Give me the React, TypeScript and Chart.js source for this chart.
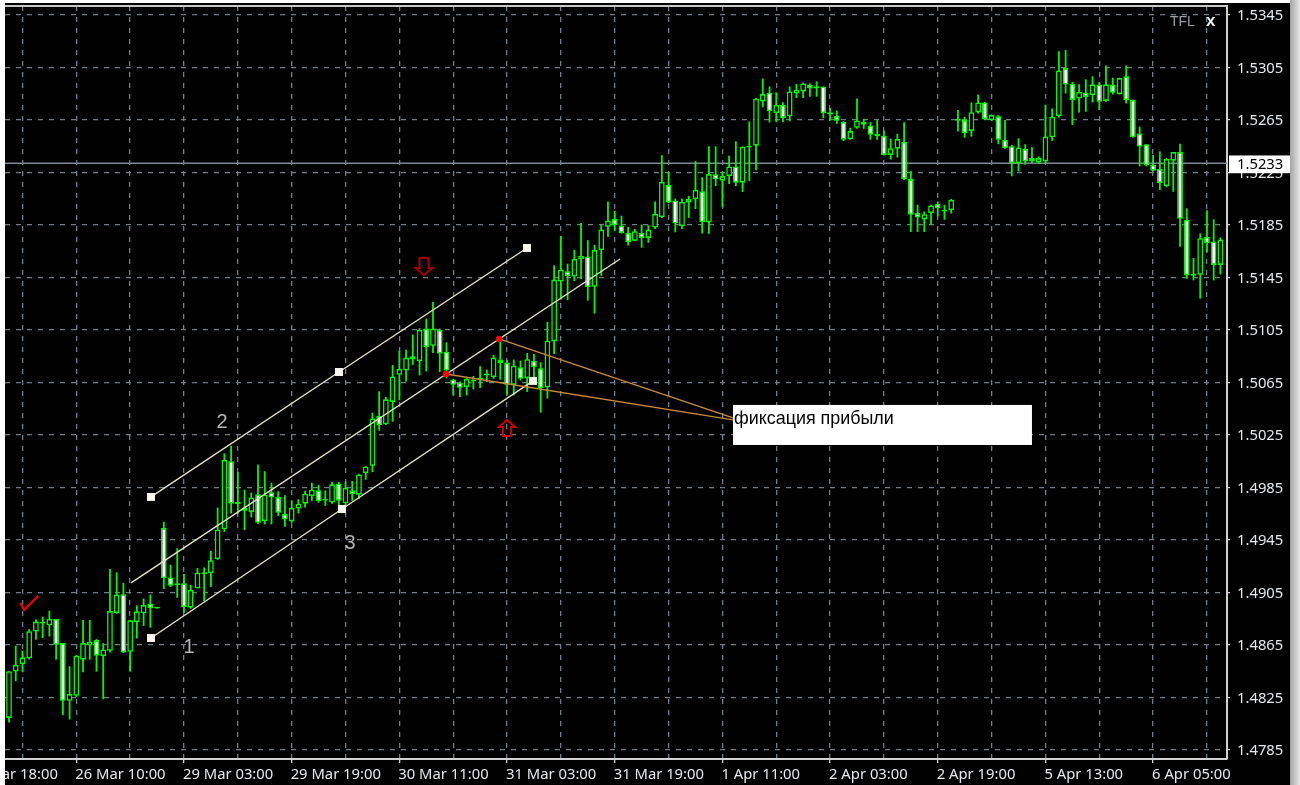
import React, { useEffect, useRef } from "react";
import { Chart, registerables } from "chart.js";

Chart.register(...registerables);

const opens = [
  1.48094,1.48447,1.48505,1.48548,1.48752,1.48813,1.48800,1.48848,1.48664,1.48225,
  1.48263,1.48538,1.48646,1.48687,1.48566,1.48606,1.48893,1.49037,1.48598,1.48825,
  1.48891,1.48964,1.48928,1.49541,1.49165,1.49107,1.49120,1.48934,1.49082,1.49191,
  1.49196,1.49304,1.49531,1.50050,1.49725,1.49697,1.49664,1.49798,1.49594,1.49813,
  1.49778,1.49647,1.49591,1.49690,1.49727,1.49785,1.49828,1.49750,1.49735,1.49881,
  1.49730,1.49828,1.49795,1.49959,1.50015,1.50394,1.50331,1.50502,1.50709,1.50741,
  1.50850,1.50814,1.51061,1.50930,1.51051,1.50885,1.50673,1.50648,1.50615,1.50658,
  1.50673,1.50704,1.50691,1.50825,1.50802,1.50633,1.50767,1.50683,1.50814,1.50759,
  1.50613,1.50963,1.51419,1.51497,1.51457,1.51589,1.51611,1.51379,1.51659,1.51836,
  1.51896,1.51846,1.51790,1.51730,1.51790,1.51752,1.51831,1.51911,1.52156,1.52037,
  1.51841,1.52022,1.52047,1.52108,1.51870,1.52236,1.52188,1.52223,1.52296,1.52173,
  1.52440,1.52455,1.52792,1.52858,1.52702,1.52765,1.52679,1.52853,1.52868,1.52918,
  1.52893,1.52906,1.52709,1.52682,1.52636,1.52503,1.52591,1.52636,1.52609,1.52528,
  1.52530,1.52384,1.52432,1.52483,1.52200,1.51941,1.51893,1.51941,1.52011,1.51953,
  1.51963,1.52645,1.52650,1.52567,1.52708,1.52784,1.52650,1.52678,1.52499,1.52451,
  1.52322,1.52431,1.52335,1.52327,1.52335,1.52519,1.52680,1.53046,1.52927,1.52814,
  1.52859,1.52839,1.52920,1.52796,1.52920,1.52847,1.52983,1.52804,1.52547,1.52466,
  1.52310,1.52277,1.52146,1.52340,1.52406,1.51891,1.51463,1.51471,1.51760,1.51725,
  1.51546,
];
const closes = [
  1.48450,1.48498,1.48556,1.48755,1.48828,1.48818,1.48848,1.48651,1.48225,1.48276,
  1.48568,1.48664,1.48674,1.48568,1.48616,1.48908,1.49034,1.48593,1.48838,1.48906,
  1.48954,1.48931,1.48932,1.49160,1.49102,1.49110,1.48939,1.49070,1.49201,1.49196,
  1.49296,1.49528,1.50060,1.49727,1.49732,1.49672,1.49773,1.49581,1.49795,1.49773,
  1.49657,1.49606,1.49695,1.49727,1.49803,1.49833,1.49745,1.49755,1.49874,1.49748,
  1.49846,1.49798,1.49949,1.50010,1.50376,1.50326,1.50522,1.50696,1.50754,1.50840,
  1.50825,1.51051,1.50920,1.51061,1.50870,1.50741,1.50633,1.50610,1.50678,1.50666,
  1.50686,1.50714,1.50840,1.50799,1.50633,1.50779,1.50678,1.50827,1.50767,1.50608,
  1.50968,1.51434,1.51510,1.51460,1.51591,1.51614,1.51377,1.51659,1.51815,1.51883,
  1.51848,1.51790,1.51720,1.51803,1.51752,1.51815,1.51934,1.52178,1.52022,1.51861,
  1.52027,1.52050,1.52118,1.51871,1.52238,1.52198,1.52223,1.52296,1.52173,1.52447,
  1.52450,1.52813,1.52848,1.52717,1.52765,1.52666,1.52868,1.52881,1.52929,1.52891,
  1.52906,1.52702,1.52692,1.52644,1.52500,1.52566,1.52646,1.52614,1.52538,1.52546,
  1.52384,1.52435,1.52505,1.52200,1.51928,1.51908,1.51933,1.51999,1.51979,1.51966,
  1.52042,1.52650,1.52549,1.52710,1.52784,1.52655,1.52688,1.52499,1.52436,1.52322,
  1.52441,1.52335,1.52360,1.52360,1.52524,1.52675,1.53028,1.52920,1.52801,1.52864,
  1.52826,1.52922,1.52789,1.52922,1.52857,1.52970,1.52801,1.52519,1.52448,1.52305,
  1.52264,1.52169,1.52353,1.52406,1.51897,1.51466,1.51478,1.51750,1.51710,1.51546,
  1.51740,
];
const highs = [
  1.48450,1.48644,1.48606,1.48770,1.48845,1.48866,1.48911,1.48848,1.48664,1.48488,
  1.48573,1.48840,1.48840,1.48694,1.48664,1.49228,1.49203,1.49123,1.48838,1.48951,
  1.49004,1.49034,1.48932,1.49589,1.49261,1.49387,1.49191,1.49107,1.49236,1.49241,
  1.49367,1.49697,1.50110,1.50168,1.49967,1.49833,1.49811,1.50025,1.49974,1.49886,
  1.49821,1.49790,1.49753,1.49760,1.49823,1.49886,1.49871,1.49828,1.49891,1.49891,
  1.49896,1.49899,1.49954,1.50012,1.50419,1.50583,1.50540,1.50784,1.50893,1.50900,
  1.51016,1.51064,1.51137,1.51263,1.51061,1.50956,1.50678,1.50658,1.50683,1.50699,
  1.50774,1.50749,1.50860,1.50968,1.50822,1.50825,1.50817,1.50875,1.50867,1.50804,
  1.51112,1.51543,1.51767,1.51555,1.51661,1.51866,1.51735,1.51699,1.51853,1.52030,
  1.51957,1.51921,1.51836,1.51820,1.51853,1.51848,1.52030,1.52382,1.52251,1.52052,
  1.52052,1.52072,1.52337,1.52214,1.52450,1.52450,1.52256,1.52379,1.52488,1.52450,
  1.52639,1.52818,1.52966,1.52906,1.52861,1.52785,1.52906,1.52924,1.52936,1.52929,
  1.52944,1.52906,1.52742,1.52722,1.52641,1.52591,1.52815,1.52659,1.52634,1.52649,
  1.52571,1.52508,1.52546,1.52634,1.52261,1.52004,1.51953,1.52004,1.52029,1.52004,
  1.52049,1.52726,1.52675,1.52784,1.52844,1.52789,1.52693,1.52688,1.52650,1.52461,
  1.52511,1.52466,1.52443,1.52373,1.52768,1.52738,1.53174,1.53184,1.52940,1.52922,
  1.52960,1.52983,1.52940,1.53066,1.52973,1.52973,1.53066,1.52806,1.52600,1.52466,
  1.52385,1.52411,1.52360,1.52406,1.52469,1.51977,1.51599,1.51786,1.51962,1.51894,
  1.51755,
];
const lows = [
  1.48059,1.48374,1.48442,1.48540,1.48689,1.48702,1.48714,1.48538,1.48115,1.48082,
  1.48253,1.48442,1.48538,1.48447,1.48236,1.48593,1.48888,1.48588,1.48447,1.48699,
  1.48795,1.48782,1.48928,1.49077,1.49092,1.49009,1.48896,1.48926,1.49080,1.48984,
  1.49092,1.49299,1.49511,1.49652,1.49652,1.49526,1.49622,1.49571,1.49569,1.49569,
  1.49632,1.49551,1.49581,1.49652,1.49697,1.49748,1.49735,1.49710,1.49727,1.49712,
  1.49717,1.49748,1.49765,1.49909,1.49968,1.50283,1.50326,1.50351,1.50515,1.50658,
  1.50784,1.50704,1.50734,1.50875,1.50729,1.50683,1.50552,1.50540,1.50552,1.50598,
  1.50608,1.50653,1.50678,1.50671,1.50552,1.50552,1.50666,1.50578,1.50686,1.50421,
  1.50527,1.50867,1.51283,1.51278,1.51422,1.51437,1.51274,1.51175,1.51463,1.51760,
  1.51803,1.51785,1.51694,1.51727,1.51677,1.51715,1.51820,1.51904,1.52017,1.51795,
  1.51820,1.51904,1.51972,1.51785,1.51784,1.52147,1.51986,1.52162,1.52147,1.52102,
  1.52185,1.52268,1.52747,1.52631,1.52634,1.52634,1.52641,1.52818,1.52818,1.52828,
  1.52828,1.52664,1.52646,1.52621,1.52490,1.52500,1.52583,1.52583,1.52500,1.52500,
  1.52379,1.52349,1.52364,1.52193,1.51797,1.51797,1.51797,1.51850,1.51916,1.51890,
  1.51938,1.52562,1.52516,1.52524,1.52700,1.52650,1.52642,1.52466,1.52431,1.52222,
  1.52259,1.52310,1.52322,1.52317,1.52322,1.52491,1.52668,1.52852,1.52612,1.52708,
  1.52713,1.52784,1.52726,1.52789,1.52844,1.52844,1.52776,1.52516,1.52297,1.52297,
  1.52259,1.52116,1.52138,1.52103,1.51685,1.51440,1.51428,1.51289,1.51642,1.51428,
  1.51473,
];

const xGridIndices = [-6,2,10,18,26,34,42,50,58,66,74,82,90,98,106,114,122,130,138,146,154,162,170,178];
const xTickLabels: Record<number, string> = {
  [-6]: "25 Mar 18:00", 10: "26 Mar 10:00", 26: "29 Mar 03:00", 42: "29 Mar 19:00",
  58: "30 Mar 11:00", 74: "31 Mar 03:00", 90: "31 Mar 19:00", 106: "1 Apr 11:00",
  122: "2 Apr 03:00", 138: "2 Apr 19:00", 154: "5 Apr 13:00", 170: "6 Apr 05:00",
};
const yTickValues = [1.4785,1.4825,1.4865,1.4905,1.4945,1.4985,1.5025,1.5065,1.5105,1.5145,1.5185,1.5225,1.5265,1.5305,1.5345];
const currentPrice = 1.5232;
const currentPriceLabel = "1.5233";

const channelUpper = [{ x: 21.1, y: 1.49778 }, { x: 49.03, y: 1.5073 }, { x: 76.97, y: 1.51675 }];
const channelLower = [{ x: 21.1, y: 1.48703 }, { x: 49.48, y: 1.49686 }, { x: 77.86, y: 1.50662 }];
const channelMiddle = [{ x: 18.13, y: 1.49123 }, { x: 90.79, y: 1.51591 }];
const profitLineA = [{ x: 72.81, y: 1.50982 }, { x: 107.58, y: 1.5038 }];
const profitLineB = [{ x: 64.93, y: 1.50715 }, { x: 107.58, y: 1.50365 }];

const profitBox = { x0: 107.58, x1: 152.0, y0: 1.50479, y1: 1.50174, text: "фиксация прибыли" };
const waveLabels = [
  { text: "1", x: 26.75, y: 1.4863 },
  { text: "2", x: 31.65, y: 1.50342 },
  { text: "3", x: 50.67, y: 1.49427 },
];
const sellArrow = { x: 61.66, y: 1.51538 };
const buyArrow = { x: 74.0, y: 1.50304 };
const checkMark = { x: 2.85, y: 1.48963 };

const TICK_FONT = { family: "Noto Sans", size: 14.8 };
const AXIS_TEXT = "#e4e8ec";
const GRID = "#707e8a";
const CANDLE = "#00f800";
const CHANNEL = "#e6e2c8";

const overlayPlugin = {
  id: "overlay",
  afterDatasetsDraw(chart: any) {
    const { ctx, chartArea, scales } = chart;
    const X = (v: number) => scales.x.getPixelForValue(v);
    const Y = (v: number) => scales.y.getPixelForValue(v);
    ctx.save();

    ctx.strokeStyle = "#c8c8c8";
    ctx.lineWidth = 2;
    ctx.beginPath();
    ctx.moveTo(chartArea.left, chartArea.top);
    ctx.lineTo(chartArea.right, chartArea.top);
    ctx.stroke();

    const bx = X(profitBox.x0);
    const by = Y(profitBox.y0);
    ctx.fillStyle = "#ffffff";
    ctx.fillRect(bx, by, X(profitBox.x1) - bx, Y(profitBox.y1) - by);
    ctx.fillStyle = "#000000";
    ctx.font = '17.9px "Liberation Sans", sans-serif';
    ctx.textAlign = "left";
    ctx.textBaseline = "alphabetic";
    ctx.fillText(profitBox.text, bx + 1, by + 19);

    ctx.fillStyle = "#b4b4b4";
    ctx.font = '20px "Liberation Sans", sans-serif';
    ctx.textAlign = "center";
    ctx.textBaseline = "middle";
    for (const w of waveLabels) ctx.fillText(w.text, X(w.x), Y(w.y));

    ctx.fillStyle = "#9a9fa4";
    ctx.font = '14px "Liberation Sans", sans-serif';
    ctx.textAlign = "left";
    ctx.textBaseline = "alphabetic";
    ctx.fillText("TFL", chartArea.right - 57, chartArea.top + 20);
    ctx.fillStyle = "#f0f0f0";
    ctx.font = 'bold 17px "Liberation Sans", sans-serif';
    ctx.fillText("x", chartArea.right - 21, chartArea.top + 20);

    const ax = X(sellArrow.x);
    const ay = Y(sellArrow.y);
    ctx.strokeStyle = "#a80000";
    ctx.lineWidth = 2;
    ctx.beginPath();
    ctx.moveTo(ax - 4.5, ay - 8);
    ctx.lineTo(ax + 4.5, ay - 8);
    ctx.lineTo(ax + 4.5, ay + 2);
    ctx.lineTo(ax + 8.5, ay + 2);
    ctx.lineTo(ax, ay + 9);
    ctx.lineTo(ax - 8.5, ay + 2);
    ctx.lineTo(ax - 4.5, ay + 2);
    ctx.closePath();
    ctx.stroke();

    const ux = X(buyArrow.x);
    const uy = Y(buyArrow.y);
    ctx.strokeStyle = "#c80000";
    ctx.beginPath();
    ctx.moveTo(ux - 4, uy + 8);
    ctx.lineTo(ux + 4, uy + 8);
    ctx.lineTo(ux + 4, uy - 1);
    ctx.lineTo(ux + 8, uy - 1);
    ctx.lineTo(ux, uy - 8);
    ctx.lineTo(ux - 8, uy - 1);
    ctx.lineTo(ux - 4, uy - 1);
    ctx.closePath();
    ctx.stroke();

    const cx = X(checkMark.x);
    const cy = Y(checkMark.y);
    ctx.strokeStyle = "#e00000";
    ctx.lineWidth = 2.4;
    ctx.beginPath();
    ctx.moveTo(cx - 8, cy - 1);
    ctx.lineTo(cx - 4, cy + 6);
    ctx.lineTo(cx + 10, cy - 8);
    ctx.stroke();

    ctx.restore();
  },
};

export default function App() {
  const ref = useRef<HTMLCanvasElement | null>(null);

  useEffect(() => {
    if (!ref.current) return;
    const flatLine = { borderWidth: 1.4, pointRadius: 0, tension: 0, fill: false };
    const square = [5.6, 5.6, 5.6];
    const chart = new Chart(ref.current, {
      type: "bar",
      plugins: [overlayPlugin],
      data: {
        datasets: [
          {
            type: "line",
            order: 5,
            data: [{ x: -0.594, y: currentPrice }, { x: 180.98, y: currentPrice }],
            borderColor: "#7d8893",
            ...flatLine,
            borderWidth: 1.5,
          },
          {
            label: "wicks",
            order: 4,
            data: lows.map((l, i) => ({ x: i, y: [l, highs[i]] })),
            backgroundColor: CANDLE,
            barThickness: 1.8,
            grouped: false,
            borderWidth: 0,
            inflateAmount: 0,
          },
          {
            label: "bodies",
            order: 3,
            data: opens.map((o, i) => ({ x: i, y: [o, closes[i]] })),
            backgroundColor: opens.map((o, i) => (closes[i] < o - 0.00006 ? "#ffffff" : "#000000")),
            borderColor: CANDLE,
            borderWidth: 1.6,
            borderSkipped: false,
            barThickness: 5.8,
            minBarLength: 1.8,
            grouped: false,
            inflateAmount: 0,
          },
          { type: "line", order: 2, data: channelMiddle, borderColor: CHANNEL, ...flatLine },
          {
            type: "line",
            order: 2,
            data: channelUpper,
            borderColor: CHANNEL,
            ...flatLine,
            pointStyle: "rect",
            pointRadius: square,
            pointBorderWidth: 0,
            pointBackgroundColor: "#fffaf0",
          },
          {
            type: "line",
            order: 2,
            data: channelLower,
            borderColor: CHANNEL,
            ...flatLine,
            pointStyle: "rect",
            pointRadius: square,
            pointBorderWidth: 0,
            pointBackgroundColor: "#fffaf0",
          },
          {
            type: "line",
            order: 1,
            data: profitLineA,
            borderColor: "#c88a3c",
            ...flatLine,
            pointRadius: [3.2, 0],
            pointBorderWidth: 0,
            pointBackgroundColor: "#ff0000",
          },
          {
            type: "line",
            order: 1,
            data: profitLineB,
            borderColor: "#c88a3c",
            ...flatLine,
            pointRadius: [3.2, 0],
            pointBorderWidth: 0,
            pointBackgroundColor: "#ff0000",
          },
        ],
      } as any,
      options: {
        responsive: false,
        animation: false,
        events: [],
        layout: { autoPadding: false, padding: { left: 0, right: 0, top: 3, bottom: 0 } },
        plugins: { legend: { display: false }, tooltip: { enabled: false }, title: { display: false } },
        scales: {
          x: {
            type: "linear",
            min: -0.594,
            max: 180.98,
            offset: false,
            bounds: "data",
            afterBuildTicks(scale: any) {
              scale.ticks = xGridIndices.map((value) => ({ value }));
            },
            afterFit(scale: any) {
              scale.height = 26;
              scale.paddingLeft = 0;
              scale.paddingRight = 0;
            },
            ticks: {
              autoSkip: false,
              maxRotation: 0,
              minRotation: 0,
              align: "start",
              padding: 3,
              color: AXIS_TEXT,
              font: TICK_FONT,
              labelOffset: -1,
              callback: (value: any) => xTickLabels[value] ?? "",
            },
            grid: {
              offset: false,
              color: GRID,
              lineWidth: 1.3,
              tickLength: 4,
              tickColor: (c: any) => (c.tick && xTickLabels[c.tick.value] ? "#d0d0d0" : "transparent"),
            },
            border: { display: true, color: "#d0d0d0", width: 2, dash: [5, 6] },
          },
          y: {
            type: "linear",
            position: "right",
            min: 1.47781,
            max: 1.53519,
            bounds: "data",
            afterBuildTicks(scale: any) {
              scale.ticks = [...yTickValues, currentPrice].map((value) => ({ value }));
            },
            afterFit(scale: any) {
              scale.width = 63;
              scale.paddingTop = 0;
              scale.paddingBottom = 0;
            },
            ticks: {
              autoSkip: false,
              padding: 7,
              labelOffset: 1,
              font: TICK_FONT,
              color: (c: any) => (c.tick && c.tick.value === currentPrice ? "#000000" : AXIS_TEXT),
              showLabelBackdrop: (c: any) => !!c.tick && c.tick.value === currentPrice,
              backdropColor: "#ffffff",
              backdropPadding: { top: 0, bottom: 0, left: 8, right: 8 },
              callback: (value: any) => (value === currentPrice ? currentPriceLabel : Number(value).toFixed(4)),
            },
            grid: {
              color: (c: any) => (c.tick && c.tick.value === currentPrice ? "transparent" : GRID),
              lineWidth: 1.3,
              tickLength: 3,
              tickColor: (c: any) => (c.tick && c.tick.value === currentPrice ? "transparent" : "#d0d0d0"),
            },
            border: { display: true, color: "#d0d0d0", width: 2, dash: [5, 6] },
          },
        },
      } as any,
    });
    return () => chart.destroy();
  }, []);

  return (
    <div style={{ position: "fixed", left: 0, top: 0, width: 1300, height: 785, background: "#ffffff", overflow: "hidden" }}>
      <div
        style={{
          position: "absolute",
          left: 1290,
          top: 0,
          width: 10,
          height: 785,
          background: "linear-gradient(to right, #a4a4a4, #e8e8e8)",
        }}
      />
      <canvas
        ref={ref}
        width={1285}
        height={782}
        style={{ position: "absolute", left: 5, top: 3, width: 1285, height: 782, background: "#000000" }}
      />
    </div>
  );
}
